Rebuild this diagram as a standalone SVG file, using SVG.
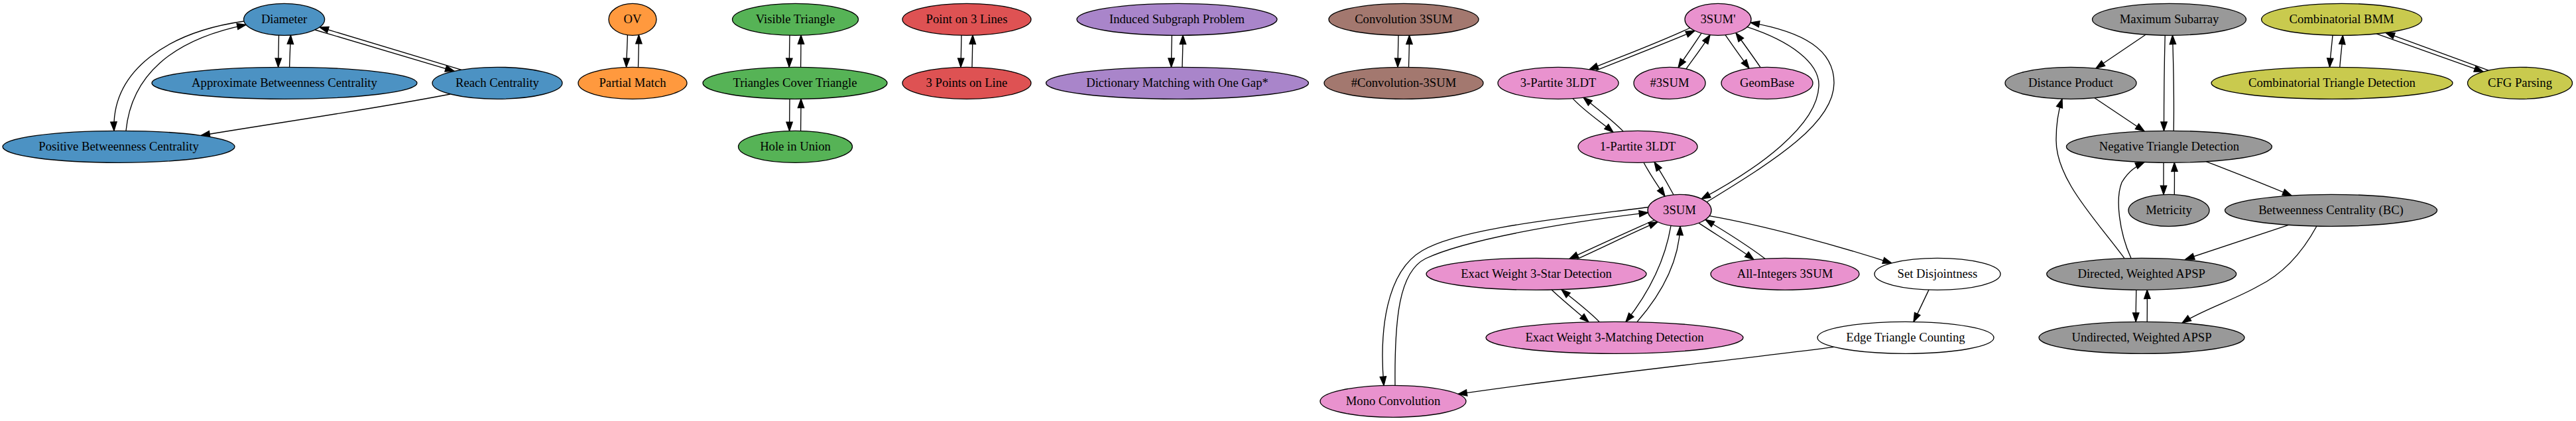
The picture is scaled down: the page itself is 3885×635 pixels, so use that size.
<svg xmlns="http://www.w3.org/2000/svg" width="3885" height="635" viewBox="0 0 3885 635">
<style>
.n ellipse{stroke:#000;stroke-width:1.33}
.n text{font-family:"Liberation Serif","Times New Roman",serif;font-size:18.67px;text-anchor:middle;fill:#000}
.blue ellipse{fill:#4c92c3}.orange ellipse{fill:#ff993e}.green ellipse{fill:#56b356}.red ellipse{fill:#de5253}
.purple ellipse{fill:#a985ca}.brown ellipse{fill:#a3786f}.pink ellipse{fill:#e992ce}.gray ellipse{fill:#999999}
.olive ellipse{fill:#c9ca4e}.white ellipse{fill:#ffffff}
#edges path{fill:none;stroke:#000;stroke-width:1.33;marker-end:url(#a)}
</style>
<defs>
<marker id="a" markerUnits="userSpaceOnUse" markerWidth="16" markerHeight="12" refX="13.3" refY="0" orient="auto" overflow="visible">
<path d="M0,-4.67 L13.3,0 L0,4.67 Z" fill="#000" stroke="#000" stroke-width="1.33"/>
</marker>
</defs>
<rect width="3885" height="635" fill="#fff"/>
<g id="edges">
<path d="M420.5,53.1 C420.2,68 419.8,85 419.6,101.3"/>
<path d="M436.6,101.3 C437,86 437.8,68 438.4,53.1"/>
<path d="M696,105.3 L482,41"/>
<path d="M475,45 L685,107.3"/>
<path d="M368,32 C255,48 168,105 172,197.3"/>
<path d="M190,197.3 C198,115 258,60 371,37.3"/>
<path d="M679,142 C560,165 420,185 303,204.4"/>
<path d="M946.4,52.8 C946,70 945,85 944.6,101.3"/>
<path d="M962.5,101.3 C963,85 963.4,70 963.4,52.6"/>
<path d="M1191,53.1 C1190.8,70 1190.4,85 1190.2,101.3"/>
<path d="M1207.6,101.3 C1207.8,85 1208,70 1208,53.1"/>
<path d="M1191,149.2 C1190.8,165 1190.6,180 1190.6,197.4"/>
<path d="M1207.6,197.4 C1207.8,180 1208,165 1208,149.2"/>
<path d="M1450,53.1 C1449.8,70 1449.3,85 1449,101.3"/>
<path d="M1466,101.3 C1466.3,85 1466.8,70 1467,53.1"/>
<path d="M1767.4,53.2 C1767,70 1766.6,85 1766.5,101.3"/>
<path d="M1783,101.3 C1783.4,85 1784,70 1784,53.2"/>
<path d="M2109,53.2 C2108.8,70 2108.2,85 2108,101.3"/>
<path d="M2124.5,101.3 C2125,85 2125.5,70 2125.5,53.2"/>
<path d="M2549,42 C2500,65 2445,85 2397,104.8"/>
<path d="M2406,106.6 C2455,87 2510,66 2556,46.4"/>
<path d="M2566,50.1 C2555,67 2542,85 2531,102"/>
<path d="M2543,104 C2555,87 2568,70 2579,52.6"/>
<path d="M2602,52.7 C2614,70 2626,87 2638,103.2"/>
<path d="M2655,101.6 C2643,84 2630,66 2618,49.5"/>
<path d="M2372,148.6 C2390,168 2412,182 2433,199.4"/>
<path d="M2448,198 C2430,180 2410,165 2388,147.1"/>
<path d="M2479,245.2 C2488,262 2500,280 2511,296"/>
<path d="M2524,293.7 C2515,277 2505,260 2495,244.4"/>
<path d="M2635,40.7 C2700,62 2745,95 2743,130 C2741,190 2650,255 2566,300"/>
<path d="M2574,304.8 C2680,240 2766,185 2766,125 C2766,75 2720,48 2640,34.1"/>
<path d="M2486,312.5 C2350,330 2200,345 2145,378 C2090,410 2080,500 2087,581.5"/>
<path d="M2104,581.3 C2103,480 2110,410 2150,390 C2210,362 2350,337 2485.5,320.7"/>
<path d="M2495,332 C2455,350 2410,370 2367,390.4"/>
<path d="M2378,391 C2420,372 2460,352 2500,334.7"/>
<path d="M2520,340.4 C2510,400 2480,450 2452,485.4"/>
<path d="M2469,485.5 C2500,450 2532,400 2534,341.3"/>
<path d="M2340,437 C2358,454 2378,470 2396,485.8"/>
<path d="M2412,485.5 C2395,468 2373,452 2355,436.7"/>
<path d="M2562,336.4 C2590,355 2620,373 2645,391.5"/>
<path d="M2662,390.2 C2635,370 2600,348 2572,331.3"/>
<path d="M2578,325.7 C2660,340 2770,370 2853,397"/>
<path d="M2909,437.1 L2886,485.4"/>
<path d="M2766,523.3 C2600,545 2400,565 2199,594.4"/>
<path d="M3236,52.2 L3161,103"/>
<path d="M3265.2,53.2 C3264,100 3263.5,150 3263.5,197.3"/>
<path d="M3278.2,197.3 C3279,150 3278,100 3276.5,53.3"/>
<path d="M3159,147.7 L3234,198"/>
<path d="M3263,245.2 C3263,262 3263,278 3263,293.5"/>
<path d="M3279.3,293.5 C3279.5,278 3279.5,262 3279.3,245.2"/>
<path d="M3327,243.7 C3370,260 3415,278 3456,295"/>
<path d="M3204,389.7 C3160,330 3100,270 3101,210 C3101,185 3105,165 3110,149.1"/>
<path d="M3214,389.5 C3196,350 3190,300 3200,275 C3210,258 3222,250 3234,244.6"/>
<path d="M3451.5,339.3 L3296,391"/>
<path d="M3494,341 C3470,385 3440,415 3405,432 C3370,452 3320,468 3291,487.2"/>
<path d="M3221.8,437.2 C3221.5,452 3221.2,470 3221.2,485.3"/>
<path d="M3238.2,485.3 C3238.4,470 3238.4,452 3238.2,437.2"/>
<path d="M3518,53 C3516.5,70 3514.5,85 3513.5,101.3"/>
<path d="M3528.8,101.3 C3530,85 3532,70 3533.3,53.3"/>
<path d="M3584,50.9 L3745,108.2"/>
<path d="M3753,106.1 L3598,49.4"/>
</g>
<g id="diameter" class="n blue"><ellipse cx="428.6" cy="29.3" rx="61" ry="24"/><text x="428.6" y="35.3">Diameter</text></g>
<g id="approx-bc" class="n blue"><ellipse cx="429" cy="125.3" rx="200" ry="24"/><text x="429" y="131.3">Approximate Betweenness Centrality</text></g>
<g id="reach" class="n blue"><ellipse cx="750" cy="125.3" rx="98" ry="24"/><text x="750" y="131.3">Reach Centrality</text></g>
<g id="pos-bc" class="n blue"><ellipse cx="179" cy="221.3" rx="175" ry="24"/><text x="179" y="227.3">Positive Betweenness Centrality</text></g>
<g id="ov" class="n orange"><ellipse cx="954" cy="29.3" rx="36" ry="24"/><text x="954" y="35.3">OV</text></g>
<g id="partial-match" class="n orange"><ellipse cx="954" cy="125.3" rx="82" ry="24"/><text x="954" y="131.3">Partial Match</text></g>
<g id="visible-triangle" class="n green"><ellipse cx="1199.5" cy="29.3" rx="95" ry="24"/><text x="1199.5" y="35.3">Visible Triangle</text></g>
<g id="tct" class="n green"><ellipse cx="1199" cy="125.3" rx="139" ry="24"/><text x="1199" y="131.3">Triangles Cover Triangle</text></g>
<g id="hole" class="n green"><ellipse cx="1199.5" cy="221.3" rx="86" ry="24"/><text x="1199.5" y="227.3">Hole in Union</text></g>
<g id="p3l" class="n red"><ellipse cx="1458" cy="29.3" rx="97" ry="24"/><text x="1458" y="35.3">Point on 3 Lines</text></g>
<g id="3pl" class="n red"><ellipse cx="1458" cy="125.3" rx="97" ry="24"/><text x="1458" y="131.3">3 Points on Line</text></g>
<g id="isp" class="n purple"><ellipse cx="1775" cy="29.3" rx="151" ry="24"/><text x="1775" y="35.3">Induced Subgraph Problem</text></g>
<g id="dm" class="n purple"><ellipse cx="1775.5" cy="125.3" rx="198" ry="24"/><text x="1775.5" y="131.3">Dictionary Matching with One Gap*</text></g>
<g id="conv3sum" class="n brown"><ellipse cx="2117" cy="29.3" rx="113" ry="24"/><text x="2117" y="35.3">Convolution 3SUM</text></g>
<g id="hconv3sum" class="n brown"><ellipse cx="2117" cy="125.3" rx="120" ry="24"/><text x="2117" y="131.3">#Convolution-3SUM</text></g>
<g id="3sump" class="n pink"><ellipse cx="2591" cy="29.3" rx="50" ry="24"/><text x="2591" y="35.3">3SUM'</text></g>
<g id="3p3ldt" class="n pink"><ellipse cx="2350" cy="125.3" rx="91" ry="24"/><text x="2350" y="131.3">3-Partite 3LDT</text></g>
<g id="h3sum" class="n pink"><ellipse cx="2518" cy="125.3" rx="54" ry="24"/><text x="2518" y="131.3">#3SUM</text></g>
<g id="geombase" class="n pink"><ellipse cx="2665" cy="125.3" rx="69" ry="24"/><text x="2665" y="131.3">GeomBase</text></g>
<g id="1p3ldt" class="n pink"><ellipse cx="2470" cy="221.3" rx="90" ry="24"/><text x="2470" y="227.3">1-Partite 3LDT</text></g>
<g id="3sum" class="n pink"><ellipse cx="2533" cy="317.3" rx="48" ry="24"/><text x="2533" y="323.3">3SUM</text></g>
<g id="ew3star" class="n pink"><ellipse cx="2317" cy="413.3" rx="166" ry="24"/><text x="2317" y="419.3">Exact Weight 3-Star Detection</text></g>
<g id="ai3sum" class="n pink"><ellipse cx="2692" cy="413.3" rx="112" ry="24"/><text x="2692" y="419.3">All-Integers 3SUM</text></g>
<g id="setdisj" class="n white"><ellipse cx="2922" cy="413.3" rx="95" ry="24"/><text x="2922" y="419.3">Set Disjointness</text></g>
<g id="ew3match" class="n pink"><ellipse cx="2435" cy="509.3" rx="194" ry="24"/><text x="2435" y="515.3">Exact Weight 3-Matching Detection</text></g>
<g id="etc" class="n white"><ellipse cx="2874" cy="509.3" rx="133" ry="24"/><text x="2874" y="515.3">Edge Triangle Counting</text></g>
<g id="monoconv" class="n pink"><ellipse cx="2101" cy="605.3" rx="110" ry="24"/><text x="2101" y="611.3">Mono Convolution</text></g>
<g id="maxsub" class="n gray"><ellipse cx="3271.5" cy="29.3" rx="116" ry="24"/><text x="3271.5" y="35.3">Maximum Subarray</text></g>
<g id="cbmm" class="n olive"><ellipse cx="3531.6" cy="29.3" rx="121" ry="24"/><text x="3531.6" y="35.3">Combinatorial BMM</text></g>
<g id="distprod" class="n gray"><ellipse cx="3123" cy="125.3" rx="99" ry="24"/><text x="3123" y="131.3">Distance Product</text></g>
<g id="ctd" class="n olive"><ellipse cx="3517" cy="125.3" rx="182" ry="24"/><text x="3517" y="131.3">Combinatorial Triangle Detection</text></g>
<g id="cfg" class="n olive"><ellipse cx="3800.5" cy="125.3" rx="79" ry="24"/><text x="3800.5" y="131.3">CFG Parsing</text></g>
<g id="ntd" class="n gray"><ellipse cx="3271.4" cy="221.3" rx="155" ry="24"/><text x="3271.4" y="227.3">Negative Triangle Detection</text></g>
<g id="metricity" class="n gray"><ellipse cx="3271" cy="317.3" rx="61" ry="24"/><text x="3271" y="323.3">Metricity</text></g>
<g id="bc" class="n gray"><ellipse cx="3515.5" cy="317.3" rx="160" ry="24"/><text x="3515.5" y="323.3">Betweenness Centrality (BC)</text></g>
<g id="dapsp" class="n gray"><ellipse cx="3229.7" cy="413.3" rx="143" ry="24"/><text x="3229.7" y="419.3">Directed, Weighted APSP</text></g>
<g id="uapsp" class="n gray"><ellipse cx="3230" cy="509.3" rx="155" ry="24"/><text x="3230" y="515.3">Undirected, Weighted APSP</text></g>
</svg>
